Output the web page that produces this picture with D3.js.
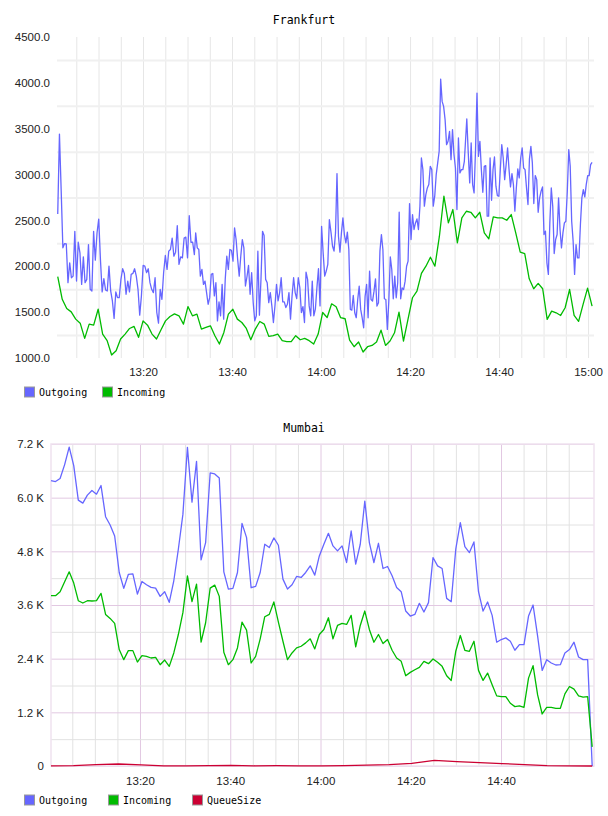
<!DOCTYPE html>
<html>
<head>
<meta charset="utf-8">
<script src="https://cdn.jsdelivr.net/npm/d3@7"></script>
<style>
  body { margin: 0; background: #ffffff; }
  svg { display: block; }
  .tick text { font-family: "Liberation Sans", Arial, sans-serif; font-size: 11.5px; fill: #222222; }
  .title { font-family: "DejaVu Sans Mono", monospace; font-size: 11.5px; fill: #000000; }
  .legend-text { font-family: "DejaVu Sans Mono", monospace; font-size: 10px; fill: #000000; }
</style>
</head>
<body>
<div id="chart"></div>
<script>
// ---- Frankfurt data ----
// outgoing is sampled densely; read in four stretches, each with its own time span
const frankfurtOutgoingA = [
  2569, 3441, 2833, 2201, 2248, 2244, 1821, 2038, 1875, 1893,
  2381, 1839, 2262, 2147, 1803, 2103, 1821, 1857, 2237, 1749,
  1731, 2381, 2067, 2363, 2515, 2074, 1720, 1865, 1742, 1731,
  2002, 1731, 1622, 1431, 1720, 1658, 1658, 1857, 1973, 1922,
  1695, 1839, 1720, 1912, 1922, 1973, 1893, 1749, 1467, 1677,
  2009, 2002, 1930, 1973, 1821, 1749, 1713, 1875, 1496, 1380,
  1749, 1640, 1930, 2118, 1966, 2165, 2183, 2307, 2110, 2154,
  2443, 2020, 2103, 2092, 2307, 2318, 2092, 2551, 2262, 2262,
  2128
];
const frankfurtOutgoingB = [
  2363, 2201, 2183, 1893, 1966, 1803, 1839, 1713, 1586, 1658,
  1912, 1922, 1677, 1821, 1405, 1612, 1460, 1803, 1424, 1857,
  2110, 1966, 2183, 2175, 2056, 2418, 2291, 2074, 1893, 2110,
  2291, 2201, 1785, 1886, 2009, 1695, 1930, 1604, 1405, 1460,
  2165, 1467, 1857, 2381, 2335, 1857, 1821, 1604, 1713, 1568,
  1387, 1568, 1803, 1622, 1713, 1875, 1612, 1612, 1550, 1586,
  1713, 1424, 1677, 1875, 1713, 1648, 1875, 1767, 1496, 1561,
  1387, 1937, 1857, 1568, 1460, 1839, 1460, 1532, 1767, 1973,
  1568, 2436, 2147, 1893, 1948, 2020, 2508
];
const frankfurtOutgoingC = [
  2364, 2219, 2165, 2364, 3011, 2328, 2154, 2364, 2528, 2346,
  2256, 2372, 2183, 1530, 1522, 1682, 1493, 1439, 1638, 1784,
  1530, 1439, 1330, 1675, 1802, 1439, 1947, 1638, 1620, 1729,
  1863, 1566, 1602, 2165, 2346, 2183, 1646, 1638, 1312, 1620,
  2103, 1965, 1646, 1893, 1657, 1820, 2589, 1646, 1765, 1747,
  1838, 2001, 2056, 2684, 2292, 2564, 2401, 2473, 2517, 2401,
  2655, 3181, 3054, 2655, 2782, 2854, 2891, 3090, 3054, 2655,
  2764, 3000, 3127, 3254, 4041, 3798, 3744, 3599, 3326, 3363,
  3472, 3163, 3490, 3218, 3072, 2619, 3399, 3018, 3054, 3054,
  3145
];
const frankfurtOutgoingD = [
  3606, 3236, 2909, 3345, 2891, 2800, 3272, 3889, 3199, 3363,
  3054, 2807, 3090, 3098, 2546, 2546, 3181, 2720, 3054, 3192,
  2873, 2771, 2764, 3054, 3326, 3181, 2945, 3109, 3290, 3054,
  2865, 3011, 2891, 2601, 2854, 3061, 2963, 3181, 3290, 3072,
  3054, 2854, 2673, 3170, 3308, 3127, 2684, 2989, 2945, 2589,
  2746, 2818, 2865, 2346, 2383, 2038, 1911, 2473, 2854, 2655,
  2139, 2292, 2346, 2746, 2401, 2201, 2364, 2473, 2491, 2818,
  3272, 3090, 2491, 2274, 1911, 2237, 2092, 2092, 2455, 2746,
  2836, 2756, 2891, 2989, 2989, 3109, 3134
];
const frankfurtOutgoingSpans = [
  ["13:00:50", "13:31:32"],
  ["13:31:50", "14:01:52"],
  ["14:02:15", "14:32:12"],
  ["14:32:45", "15:00:54"]
];

// incoming, one sample a minute
const frankfurtIncoming = [
  1886, 1640, 1539, 1503, 1424, 1380, 1214, 1369, 1358, 1532,
  1261, 1189, 1033, 1080, 1207, 1261, 1322, 1344, 1225, 1405,
  1358, 1261, 1207, 1308, 1405, 1452, 1481, 1460, 1369, 1561,
  1460,
  1478, 1315, 1333, 1351, 1243, 1152, 1279, 1478, 1532, 1424,
  1387, 1322, 1199, 1315, 1398, 1369, 1236, 1243, 1261, 1189,
  1178, 1178, 1243, 1199, 1214, 1189, 1152, 1261, 1496, 1442,
  1591, 1559, 1439, 1428, 1196, 1123, 1174, 1065, 1123, 1137,
  1174, 1304, 1137, 1185, 1275, 1500, 1185, 1421, 1657, 1729,
  1922, 2001, 2099, 2001, 2328, 2764, 2473, 2619, 2255, 2528,
  2600, 2589, 2528, 2589, 2364, 2299, 2539, 2528, 2528, 2502,
  2564, 2364, 2154, 2139, 1863, 1755, 1813, 1755, 1421, 1511,
  1493, 1464, 1548, 1747, 1464, 1399, 1584, 1762, 1566
];
const frankfurtIncomingSpan = ["13:00:50", "15:00:54"];

const frankfurtYTicks = [1000, 1500, 2000, 2500, 3000, 3500, 4000, 4500];
const frankfurtYGrid = [1250, 1750, 2250, 2750, 3250, 3750, 4250];
const frankfurtXDomain = ["13:00:40", "15:01:20"];

// ---- Mumbai data (every minute, queue every 5 minutes) ----
const mumbaiOutgoing = [
  6383, 6360, 6427, 6739, 7132, 6716, 5945, 5878, 6056, 6160,
  6078, 6271, 5574, 5388, 5143, 4327, 3971, 4283, 4297, 3844,
  4127, 4053, 3993, 3978, 3793, 3897, 3659, 4142, 4847, 5626,
  7125, 5900, 6813, 4609, 4995, 6553, 6531, 6442, 4342, 3956,
  3971, 4327, 5425, 5106, 3986, 4016, 4327, 4958, 4884, 5099,
  4936, 4179, 3956, 4053, 4238, 4216,
  4327, 4476, 4268, 4698, 4958, 5203, 4921, 4809, 4921, 4550,
  5255, 4513, 4958, 5923, 4995, 4550, 4980, 4416, 4461, 4253,
  3993, 3897, 3465, 3353, 3390, 3638, 3443, 3653, 4661, 4476,
  4416, 3748, 3674, 4847, 5440, 4906, 4772, 5010, 3897, 3465,
  3668, 3368, 2768, 2828, 2865, 2790, 2588, 2715, 2715, 3353,
  3600, 2903, 2138, 2378, 2303, 2258, 2265, 2528, 2603, 2768,
  2438, 2378, 2378, 0
];

const mumbaiIncoming = [
  3808, 3808, 3897, 4119, 4342, 4090, 3696, 3645, 3696, 3689,
  3696, 3860, 3390, 3300, 3188, 2603, 2378, 2580, 2580, 2325,
  2468, 2453, 2415, 2430, 2265, 2370, 2228, 2528, 2940, 3428,
  4253, 3674, 4067, 2768, 3203, 3978, 4045, 3793, 2543, 2265,
  2378, 2640, 3218, 3038, 2303, 2453, 2843, 3338, 3390, 3668,
  3218, 2790, 2378, 2528, 2640, 2678,
  2753, 2843, 2618, 2940, 3053, 3315, 2843, 3143, 3188, 3165,
  3368, 2663, 3143, 3465, 3053, 2768, 2940, 2738, 2828, 2588,
  2415, 2340, 2018, 2093, 2153, 2205, 2340, 2288, 2393, 2318,
  2228, 2018, 1913, 2565, 2918, 2588, 2565, 2790, 2138, 1913,
  2078, 1815, 1568, 1553, 1553, 1403, 1328, 1343, 1313, 1965,
  2243, 1590, 1163, 1313, 1313, 1290, 1290, 1613, 1778, 1718,
  1568, 1538, 1553, 428
];

const mumbaiQueue = [
  5, 10, 30, 45, 25, 5, 5, 10, 15, 5,
  10, 5, 5, 10, 20, 30, 60, 128, 100, 75,
  55, 30, 10, 5, 0
];

const mumbaiSpan = ["13:00:17", "15:00:12"];
const mumbaiXDomain = ["13:00:17", "15:00:36"];
const mumbaiYTicks = [0, 1200, 2400, 3600, 4800, 6000, 7200];
const mumbaiYMinor = [600, 1800, 3000, 4200, 5400, 6600];

const seriesNames = ["Outgoing", "Incoming", "QueueSize"];
const seriesColors = ["#6666ff", "#00bb00", "#cc0033"];

const parseTime = d3.timeParse("%H:%M:%S");

// place samples evenly between the first and last sample time
function toPoints(values, span) {
  const start = parseTime(span[0]), end = parseTime(span[1]);
  const step = (end - start) / (values.length - 1);
  return values.map((v, i) => ({ t: new Date(+start + i * step), v: v }));
}

const svg = d3.select("#chart").append("svg")
  .attr("width", 608)
  .attr("height", 816);

function drawChart(cfg) {
  const g = svg.append("g").attr("transform", `translate(${cfg.left},${cfg.top})`);
  const innerWidth = cfg.width;
  const innerHeight = cfg.height;

  const x = d3.scaleTime().domain(cfg.xDomain.map(parseTime)).range([0, innerWidth]);
  const y = d3.scaleLinear().domain(cfg.yDomain).range([innerHeight, 0]);

  // keep ticks that fit inside the plot
  const fits = d => x(d) <= innerWidth - cfg.xClip;
  const gridTimes = x.ticks(d3.timeMinute.every(5)).filter(fits);
  const labelTimes = x.ticks(d3.timeMinute.every(20)).filter(fits);

  // vertical grid (every 5 min)
  g.append("g")
    .attr("class", "grid-x")
    .attr("transform", `translate(0,${innerHeight})`)
    .call(d3.axisBottom(x).tickValues(gridTimes).tickSize(-innerHeight).tickFormat(""))
    .call(s => s.select(".domain").remove())
    .selectAll("line")
    .attr("stroke", d => (cfg.majorX && d.getMinutes() % 20 === 0) ? cfg.majorColor : cfg.gridXColor)
    .attr("stroke-width", 1);

  // horizontal grid
  g.append("g")
    .attr("class", "grid-y")
    .call(d3.axisLeft(y).tickValues(cfg.yGrid).tickSize(-innerWidth).tickFormat(""))
    .call(s => s.select(".domain").remove())
    .selectAll("line")
    .attr("stroke", cfg.gridYColor)
    .attr("stroke-width", cfg.gridYWidth);

  if (cfg.yMajorGrid) {
    g.append("g")
      .attr("class", "grid-y-major")
      .call(d3.axisLeft(y).tickValues(cfg.yMajorGrid).tickSize(-innerWidth).tickFormat(""))
      .call(s => s.select(".domain").remove())
      .selectAll("line")
      .attr("stroke", cfg.majorColor)
      .attr("stroke-width", 1);
  }

  if (cfg.border) {
    g.append("rect")
      .attr("width", innerWidth)
      .attr("height", innerHeight)
      .attr("fill", "none")
      .attr("stroke", cfg.border)
      .attr("stroke-width", 1.5);
  }

  // y labels
  g.append("g")
    .attr("class", "y-axis")
    .call(d3.axisLeft(y).tickValues(cfg.yTicks).tickSize(0).tickPadding(7).tickFormat(cfg.yFormat))
    .call(s => s.select(".domain").remove());

  // x labels
  g.append("g")
    .attr("class", "x-axis")
    .attr("transform", `translate(0,${innerHeight})`)
    .call(d3.axisBottom(x).tickValues(labelTimes).tickSize(0).tickPadding(cfg.xPad).tickFormat(d3.timeFormat("%H:%M")))
    .call(s => s.select(".domain").remove());

  // title
  g.append("text")
    .attr("class", "title")
    .attr("x", 304 - cfg.left)
    .attr("y", cfg.titleY - cfg.top)
    .attr("text-anchor", "middle")
    .attr("dominant-baseline", "central")
    .text(cfg.title);

  // lines
  const line = d3.line().x(d => x(d.t)).y(d => y(d.v));
  cfg.series.forEach(s => {
    g.append("path")
      .datum(s.points)
      .attr("fill", "none")
      .attr("stroke", s.color)
      .attr("stroke-width", 1.3)
      .attr("stroke-linejoin", "round")
      .attr("d", line);
  });

  // legend
  const legend = svg.append("g")
    .attr("transform", `translate(24,${cfg.legendY})`);
  const items = legend.selectAll(".legend-item")
    .data(cfg.series)
    .enter()
    .append("g")
    .attr("class", "legend-item")
    .attr("transform", (d, i) => `translate(${i * cfg.legendStep},0)`);
  items.append("rect")
    .attr("x", 0.5)
    .attr("y", -5)
    .attr("width", 10)
    .attr("height", 10)
    .attr("fill", d => d.color)
    .attr("stroke", "#999999")
    .attr("stroke-width", 1);
  items.append("text")
    .attr("class", "legend-text")
    .attr("x", 15)
    .attr("y", 0)
    .attr("dominant-baseline", "central")
    .text(d => d.name);
}

// Frankfurt
const frankfurtOutgoingPoints = [frankfurtOutgoingA, frankfurtOutgoingB, frankfurtOutgoingC, frankfurtOutgoingD]
  .flatMap((part, i) => toPoints(part, frankfurtOutgoingSpans[i]));

drawChart({
  title: "Frankfurt", titleY: 20,
  left: 57, top: 37, width: 537, height: 321,
  xDomain: frankfurtXDomain, xClip: -20,
  yDomain: [1000, 4500],
  yTicks: frankfurtYTicks, yGrid: frankfurtYGrid,
  yFormat: d3.format(".1f"),
  gridXColor: "#e6e6e6", gridYColor: "#f0f0f0", gridYWidth: 2,
  xPad: 10,
  legendY: 392, legendStep: 78,
  series: [
    { name: seriesNames[0], color: seriesColors[0], points: frankfurtOutgoingPoints },
    { name: seriesNames[1], color: seriesColors[1], points: toPoints(frankfurtIncoming, frankfurtIncomingSpan) }
  ]
});

// Mumbai
drawChart({
  title: "Mumbai", titleY: 428,
  left: 51, top: 444, width: 543, height: 322,
  xDomain: mumbaiXDomain, xClip: 4,
  yDomain: [0, 7200],
  yTicks: mumbaiYTicks, yGrid: mumbaiYMinor, yMajorGrid: mumbaiYTicks,
  yFormat: d => d === 0 ? "0" : (d / 1000).toFixed(1) + " K",
  majorX: true, majorColor: "#e2c8e2",
  gridXColor: "#e2e2e2", gridYColor: "#e2e2e2", gridYWidth: 1,
  border: "#efe2ef",
  xPad: 11,
  legendY: 800, legendStep: 84,
  series: [
    { name: seriesNames[0], color: seriesColors[0], points: toPoints(mumbaiOutgoing, mumbaiSpan) },
    { name: seriesNames[1], color: seriesColors[1], points: toPoints(mumbaiIncoming, mumbaiSpan) },
    { name: seriesNames[2], color: seriesColors[2], points: toPoints(mumbaiQueue, mumbaiSpan) }
  ]
});
</script>
</body>
</html>
